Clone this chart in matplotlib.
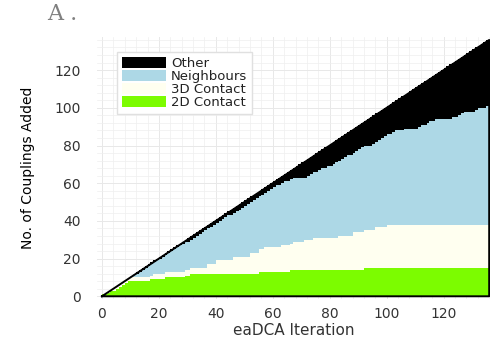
import numpy as np
import matplotlib
matplotlib.use("Agg")
import matplotlib.pyplot as plt
from matplotlib.ticker import MultipleLocator

# cumulative number of couplings of each kind after every eaDCA iteration
contact_2d = [1, 1, 2, 3, 3, 4, 5, 6, 7, 8,
              8, 8, 8, 8, 8, 8, 8, 9, 9, 9,
              9, 9, 10, 10, 10, 10, 10, 10, 10, 11,
              11, 12, 12, 12, 12, 12, 12, 12, 12, 12,
              12, 12, 12, 12, 12, 12, 12, 12, 12, 12,
              12, 12, 12, 12, 12, 13, 13, 13, 13, 13,
              13, 13, 13, 13, 13, 13, 14, 14, 14, 14,
              14, 14, 14, 14, 14, 14, 14, 14, 14, 14,
              14, 14, 14, 14, 14, 14, 14, 14, 14, 14,
              14, 14, 15, 15, 15, 15, 15, 15, 15, 15] + [15] * 36
contact_3d = [0, 1, 1, 1, 2, 2, 2, 2, 2, 2,
              2, 2, 2, 2, 2, 2, 2, 2, 3, 3,
              3, 3, 3, 3, 3, 3, 3, 3, 3, 3,
              3, 3, 3, 3, 3, 3, 3, 5, 5, 5,
              7, 7, 7, 7, 7, 7, 9, 9, 9, 9,
              9, 9, 11, 11, 11, 12, 12, 13, 13, 13,
              13, 13, 13, 14, 14, 14, 14, 15, 15, 15,
              15, 16, 16, 16, 17, 17, 17, 17, 17, 17,
              17, 17, 17, 18, 18, 18, 18, 18, 20, 20,
              20, 20, 20, 20, 20, 20, 22, 22, 22, 22] + [23] * 36
neighbours = [0, 0, 0, 0, 0, 0, 0, 0, 0, 0,
              1, 2, 2, 3, 4, 5, 6, 6, 6, 7,
              8, 9, 9, 10, 11, 12, 13, 14, 15, 15,
              15, 15, 16, 17, 18, 19, 20, 19, 20, 21,
              20, 21, 22, 23, 24, 24, 23, 24, 25, 26,
              27, 28, 27, 28, 29, 28, 29, 29, 30, 31,
              32, 33, 33, 33, 34, 34, 34, 34, 34, 34,
              34, 33, 34, 35, 35, 35, 36, 37, 37, 38,
              38, 39, 40, 40, 41, 42, 43, 43, 42, 43,
              44, 45, 45, 45, 45, 46, 45, 46, 47, 48,
              48, 48, 49, 50, 50, 50, 51, 51, 51, 51,
              51, 52, 53, 53, 54, 55, 55, 56, 56, 56,
              56, 56, 56, 57, 57, 58, 59, 60, 60, 60,
              60, 61, 62, 62, 62, 63]
other = [0, 0, 0, 0, 0, 0, 0, 0, 0, 0,
         0, 0, 1, 1, 1, 1, 1, 1, 1, 1,
         1, 1, 1, 1, 1, 1, 1, 1, 1, 1,
         2, 2, 2, 2, 2, 2, 2, 2, 2, 2,
         2, 2, 2, 2, 2, 3, 3, 3, 3, 3,
         3, 3, 3, 3, 3, 3, 3, 3, 3, 3,
         3, 3, 4, 4, 4, 5, 5, 5, 6, 7,
         8, 9, 9, 9, 9, 10, 10, 10, 11, 11,
         12, 12, 12, 12, 12, 12, 12, 13, 13, 13,
         13, 13, 13, 14, 15, 15, 15, 15, 15, 15,
         15, 16, 16, 16, 17, 18, 18, 19, 20, 21,
         22, 22, 22, 23, 23, 23, 24, 24, 25, 26,
         27, 28, 29, 29, 30, 30, 30, 30, 31, 32,
         33, 33, 33, 34, 35, 35]

c2 = np.array(contact_2d)
c3 = np.array(contact_3d)
nb = np.array(neighbours)
ot = np.array(other)
n = len(c2)
it = np.arange(n)
total = c2 + c3 + nb + ot

fig = plt.figure(figsize=(4.98, 3.47), dpi=100)
ax = fig.add_axes([0.195, 0.138, 0.789, 0.755])

ax.bar(it, ot, width=1, align="edge", bottom=c2 + c3 + nb, color="black", lw=0, label="Other", zorder=2)
ax.bar(it, nb, width=1, align="edge", bottom=c2 + c3, color="#add8e6", lw=0, label="Neighbours", zorder=2)
ax.bar(it, c3, width=1, align="edge", bottom=c2, color="#fffff0", lw=0, label="3D Contact", zorder=2)
ax.bar(it, c2, width=1, align="edge", color="#7cfc00", lw=0, label="2D Contact", zorder=2)

# outline of the whole stack (through the bar corners)
ox = np.r_[0, it + 1, n, 0]
oy = np.r_[0, total, 0, 0]
ax.plot(ox, oy, color="black", lw=1.4, solid_joinstyle="round", zorder=3)

ax.set_xlim(-1.7, 136.3)
ax.set_ylim(-1.5, 137.5)
ax.xaxis.set_major_locator(MultipleLocator(20))
ax.yaxis.set_major_locator(MultipleLocator(20))
ax.xaxis.set_minor_locator(MultipleLocator(4))
ax.yaxis.set_minor_locator(MultipleLocator(4))
ax.grid(which="major", color="#e8e8e8", lw=0.7)
ax.grid(which="minor", color="#efefef", lw=0.5)
ax.set_axisbelow(True)
for s in ax.spines.values():
    s.set_visible(False)
ax.tick_params(which="both", length=0, labelsize=10, colors="#333333")
ax.tick_params(axis="y", pad=12)
ax.tick_params(axis="x", pad=6)

ax.set_xlabel("eaDCA Iteration", fontsize=11, color="#333333", labelpad=1)
ax.set_ylabel("No. of Couplings Added", fontsize=10, color="black", labelpad=14)

leg = ax.legend(loc="upper left", bbox_to_anchor=(0.035, 0.967), fontsize=9.5,
                labelspacing=0.0, handlelength=3.3, handleheight=0.85,
                handletextpad=0.4, borderpad=0.35, fancybox=False,
                framealpha=1, edgecolor="#e0e0e0")
for t in leg.get_texts():
    t.set_color("#222222")

fig.text(0.094, 0.99, "A .", family="DejaVu Serif", fontsize=16, color="#808080",
         fontweight="light", va="top", ha="left")

fig.savefig("out.png", dpi=100)
